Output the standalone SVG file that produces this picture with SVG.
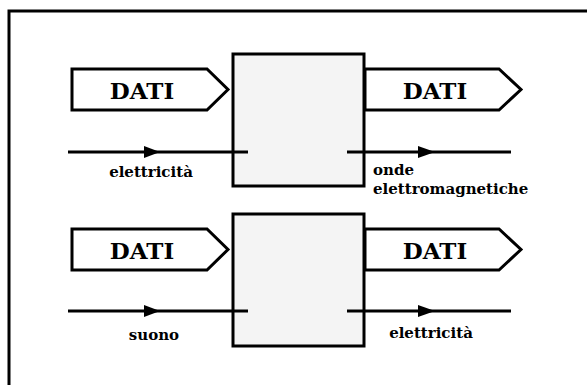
<svg xmlns="http://www.w3.org/2000/svg" width="587" height="385" viewBox="0 0 587 385">
<defs>
<style>
.frame{fill:#fff;stroke:#000;stroke-width:3}
.box{fill:#f4f4f4;stroke:#000;stroke-width:3}
.tag{fill:#fff;stroke:#000;stroke-width:3;stroke-linejoin:miter}
.line{stroke:#000;stroke-width:3;fill:none}
.head{fill:#000}
</style>
</defs>
<rect x="0" y="0" width="587" height="385" fill="#fff"/>
<rect class="frame" x="9" y="11" width="600" height="400"/>
<g id="box1"><rect class="box" x="233" y="54" width="131" height="132"/></g>
<g id="box2"><rect class="box" x="233" y="214" width="131" height="132"/></g>
<g font-family="DejaVu Serif, serif" font-weight="bold" font-size="23" text-anchor="middle">
<g id="dati-in-1"><polygon class="tag" points="72,69 207,69 228,89.5 207,110 72,110"/><text x="142" y="99">DATI</text></g>
<g id="dati-out-1"><polygon class="tag" points="365,69 499,69 521,89.5 499,110 365,110"/><text x="435" y="99">DATI</text></g>
<g id="dati-in-2"><polygon class="tag" points="72,229 207,229 228,249.5 207,270 72,270"/><text x="142" y="259">DATI</text></g>
<g id="dati-out-2"><polygon class="tag" points="365,229 499,229 521,249.5 499,270 365,270"/><text x="435" y="259">DATI</text></g>
</g>
<g id="connectors">
<line class="line" x1="68" y1="152" x2="248" y2="152"/>
<polygon class="head" points="144,146 160,152 144,158"/>
<line class="line" x1="347" y1="152" x2="511" y2="152"/>
<polygon class="head" points="418,146 435,152 418,158"/>
<line class="line" x1="68" y1="311" x2="248" y2="311"/>
<polygon class="head" points="144,305 160,311 144,317"/>
<line class="line" x1="347" y1="311" x2="511" y2="311"/>
<polygon class="head" points="418,305 435,311 418,317"/>
</g>
<g id="labels" font-family="DejaVu Serif, serif" font-weight="bold" font-size="15">
<text x="151" y="177" text-anchor="middle">elettricità</text>
<text x="373" y="175">onde</text>
<text x="373" y="194">elettromagnetiche</text>
<text x="154" y="340" text-anchor="middle">suono</text>
<text x="431" y="338" text-anchor="middle">elettricità</text>
</g>
</svg>
